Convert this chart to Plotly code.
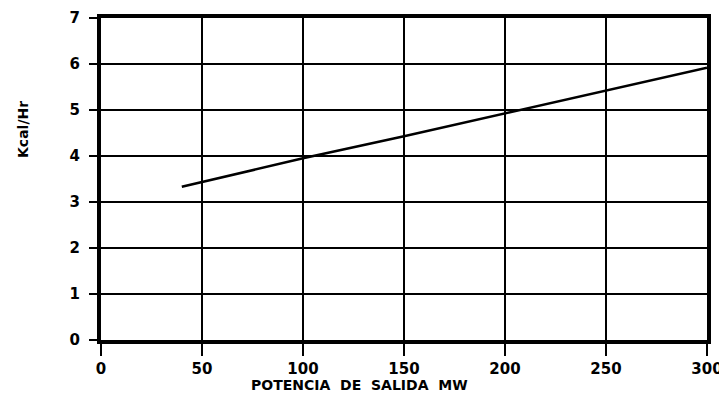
import plotly.graph_objects as go

potencia_mw = [40, 100, 150, 200, 250, 300]
kcal_hr = [3.33, 3.95, 4.43, 4.93, 5.42, 5.92]

x_ticks = [0, 50, 100, 150, 200, 250, 300]
y_ticks = [0, 1, 2, 3, 4, 5, 6, 7]

# page body has an 8px default margin, so the figure is shifted by 8px
W, H = 719, 398
L, R, T, B = 93, 20, 10, 66

fig = go.Figure()
fig.add_trace(go.Scatter(x=potencia_mw, y=kcal_hr, mode="lines",
                         line=dict(color="black", width=2.5), showlegend=False))

tickfont = dict(family="DejaVu Sans", size=15, color="black", weight="bold")
fig.update_xaxes(range=[0, 300], tickvals=x_ticks, ticktext=[str(v) for v in x_ticks],
                 showgrid=True, gridcolor="black", gridwidth=2,
                 showline=True, linecolor="black", linewidth=4, mirror=True,
                 ticks="outside", ticklen=12, tickwidth=2, tickcolor="black",
                 tickfont=tickfont, zeroline=False, automargin=False)
fig.update_yaxes(range=[0, 7], tickvals=y_ticks, ticktext=[str(v) for v in y_ticks],
                 showgrid=True, gridcolor="black", gridwidth=2,
                 showline=True, linecolor="black", linewidth=4, mirror=True,
                 ticks="outside", ticklen=8, tickwidth=2, tickcolor="black",
                 tickfont=tickfont, zeroline=False, ticklabelstandoff=6, automargin=False)

fig.add_annotation(text="POTENCIA&nbsp; DE&nbsp; SALIDA&nbsp; MW", xref="paper", yref="paper",
                   x=0.426, y=0, yshift=-45, showarrow=False,
                   font=dict(family="DejaVu Sans", size=14, color="black", weight="bold"),
                   xanchor="center", yanchor="middle")
fig.add_annotation(text="Kcal/Hr", xref="paper", yref="paper",
                   x=0, xshift=-78, y=(322 - 112) / 322, showarrow=False, textangle=-90,
                   font=dict(family="DejaVu Sans", size=14, color="black", weight="bold"),
                   xanchor="center", yanchor="middle")

fig.update_layout(width=W, height=H, margin=dict(l=L, r=R, t=T, b=B),
                  plot_bgcolor="white", paper_bgcolor="white")
fig.write_html("out.html")
